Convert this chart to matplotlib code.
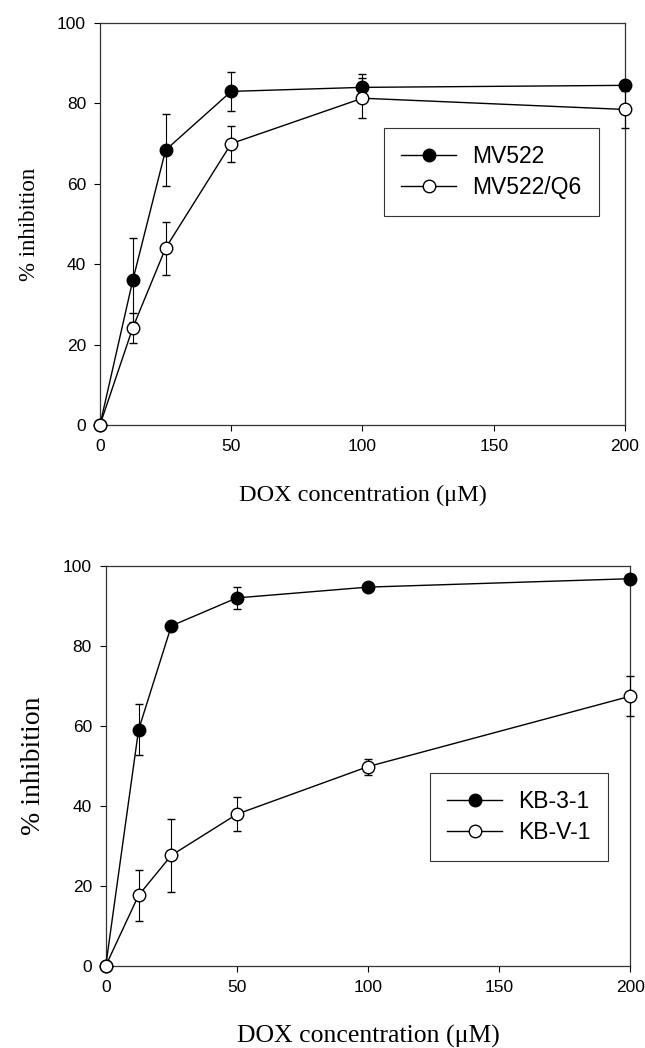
import numpy as np
import matplotlib.pyplot as plt
from matplotlib.lines import Line2D

# Concentração de DOX (uM)
dox = [0, 12.5, 25, 50, 100, 200]

# Painel superior
mv522 = [0, 36, 68.4, 83, 84, 84.5]
mv522_err = [0, 10.5, 9, 4.9, 3.4, 0]
mv522q6 = [0, 24.2, 44, 70, 81.3, 78.5]
mv522q6_err = [0, 3.7, 6.6, 4.5, 5, 4.6]

# Painel inferior
kb31 = [0, 59, 85, 92, 94.7, 96.8]
kb31_err = [0, 6.4, 0, 2.7, 0, 0]
kbv1 = [0, 17.6, 27.6, 37.9, 49.8, 67.4]
kbv1_err = [0, 6.3, 9.2, 4.3, 2, 5]

x_ticks = [0, 50, 100, 150, 200]
y_ticks = [0, 20, 40, 60, 80, 100]

SERIF = 'Liberation Serif'
SANS = 'Liberation Sans'


def draw_panel(ax, series, xlabel_size, ylabel_size, legend_anchor):
    handles = []
    for label, y, err, face in series:
        ax.errorbar(dox, y, yerr=err, color='black', ecolor='black', lw=1.0,
                    elinewidth=0.8, capsize=3, capthick=0.8, marker='o',
                    markersize=9, markerfacecolor=face, markeredgecolor='black',
                    markeredgewidth=1.0, clip_on=False, zorder=3)
        handles.append(Line2D([], [], color='black', lw=1.0, marker='o',
                              markersize=9, markerfacecolor=face,
                              markeredgecolor='black', label=label))
    ax.set_xlim(0, 200)
    ax.set_ylim(0, 100)
    ax.set_xticks(x_ticks)
    ax.set_yticks(y_ticks)
    ax.tick_params(direction='out', length=4, width=0.8, labelsize=12.5, pad=6)
    for lab in ax.get_xticklabels() + ax.get_yticklabels():
        lab.set_family(SANS)
    for s in ax.spines.values():
        s.set_linewidth(0.9)
        s.set_color('#333333')
    ax.set_xlabel('DOX concentration (\u03bcM)', fontsize=xlabel_size,
                  family=SERIF, labelpad=22)
    ax.set_ylabel('% inhibition', fontsize=ylabel_size, family=SERIF, labelpad=12)
    leg = ax.legend(handles=handles, loc='upper left', bbox_to_anchor=legend_anchor,
                    bbox_transform=ax.figure.transFigure, borderaxespad=0,
                    prop={'family': SANS, 'size': 16.5}, frameon=True,
                    fancybox=False, edgecolor='black', handlelength=2.4,
                    borderpad=0.75, labelspacing=0.35, handletextpad=0.7)
    leg.get_frame().set_linewidth(0.8)


fig = plt.figure(figsize=(6.45, 10.48), dpi=100)
ax1 = fig.add_axes([0.155, 0.5945, 0.814, 0.3835])
ax2 = fig.add_axes([0.164, 0.0785, 0.813, 0.3815])

draw_panel(ax1, [('MV522', mv522, mv522_err, 'black'),
                 ('MV522/Q6', mv522q6, mv522q6_err, 'white')],
           17.5, 16.5, (384 / 645, 1 - 128 / 1048))
draw_panel(ax2, [('KB-3-1', kb31, kb31_err, 'black'),
                 ('KB-V-1', kbv1, kbv1_err, 'white')],
           18.5, 20, (430 / 645, 1 - 773 / 1048))

fig.savefig('out.png', dpi=100)
